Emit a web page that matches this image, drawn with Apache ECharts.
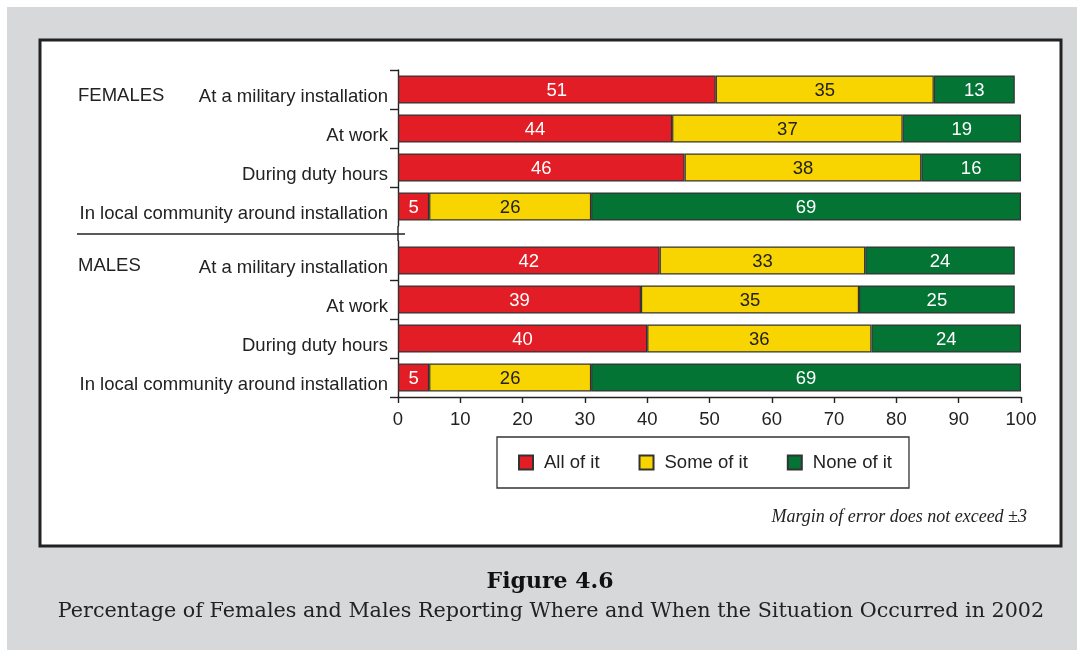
<!DOCTYPE html>
<html>
<head>
<meta charset="utf-8">
<script src="https://cdn.jsdelivr.net/npm/echarts@6/dist/echarts.min.js"></script>
<style>
  html, body { margin: 0; padding: 0; background: #ffffff; }
  #chart { width: 1084px; height: 653px; }
</style>
</head>
<body>
<div id="chart"></div>
<script>
// ---- Data ----
const categories = [
  "At a military installation",
  "At work",
  "During duty hours",
  "In local community around installation"
];
const groupNames = ["FEMALES", "MALES"];
const seriesNames = ["All of it", "Some of it", "None of it"];
const femalesAll  = [51, 44, 46, 5];
const femalesSome = [35, 37, 38, 26];
const femalesNone = [13, 19, 16, 69];
const malesAll    = [42, 39, 40, 5];
const malesSome   = [33, 35, 36, 26];
const malesNone   = [24, 25, 24, 69];
const xTicks = [0, 10, 20, 30, 40, 50, 60, 70, 80, 90, 100];
const figureTitle = "Figure 4.6";
const figureCaption = "Percentage of Females and Males Reporting Where and When the Situation Occurred in 2002";
const noteText = "Margin of error does not exceed \u00b13";

// ---- Styles ----
const colors = ["#e21d25", "#f8d400", "#037434"];
const labelColors = ["#ffffff", "#222222", "#ffffff"];
const sansFont = "Liberation Sans, Arial, Helvetica, sans-serif";
const serifFont = "DejaVu Serif, serif";
const FS = 18.5;
const ink = "#222";

const grids = [
  { left: 398, right: 63, top: 70, height: 156 },
  { left: 398, right: 63, top: 241, height: 156 }
];

function yAxisFor(gi) {
  return {
    type: "category",
    gridIndex: gi,
    data: categories,
    inverse: true,
    axisLine: { show: true, lineStyle: { color: ink, width: 1.4 } },
    axisTick: { show: false },
    axisLabel: {
      margin: 10,
      formatter: v => "{c|" + v + "}",
      rich: { c: { color: ink, fontSize: FS, fontFamily: sansFont, padding: [14, 0, 0, 0] } }
    }
  };
}
function xAxisFor(gi, show) {
  return {
    type: "value",
    gridIndex: gi,
    min: 0, max: 100, interval: 10,
    splitLine: { show: false },
    axisLine: { show: show, lineStyle: { color: ink, width: 1.4 } },
    axisTick: { show: show, length: 6, lineStyle: { color: ink, width: 1.4 } },
    axisLabel: {
      show: show, color: ink, fontSize: FS, fontFamily: sansFont, margin: 13,
      formatter: v => xTicks.indexOf(v) >= 0 ? String(v) : ""
    }
  };
}

const groupData = [
  [femalesAll, femalesSome, femalesNone],
  [malesAll, malesSome, malesNone]
];

const series = [];
groupData.forEach((arrs, gi) => {
  arrs.forEach((vals, si) => {
    series.push({
      name: seriesNames[si],
      type: "bar",
      stack: "g" + gi,
      xAxisIndex: gi,
      yAxisIndex: gi,
      barWidth: 28,
      data: vals,
      itemStyle: { color: colors[si], borderColor: "#333", borderWidth: 1.2 },
      label: {
        show: true, position: "inside", offset: [0, 1.5],
        color: labelColors[si], fontSize: FS, fontFamily: sansFont
      },
      emphasis: { disabled: true }
    });
  });
});

const staticGraphics = [
  { type: "rect", z: -10, silent: true, shape: { x: 7, y: 7, width: 1070, height: 643 }, style: { fill: "#d7d8da" } },
  { type: "rect", z: -9, silent: true, shape: { x: 40, y: 40, width: 1021, height: 506 }, style: { fill: "#ffffff", stroke: "#222", lineWidth: 3 } },
  { type: "line", z: 5, silent: true, shape: { x1: 77, y1: 234, x2: 405, y2: 234 }, style: { stroke: ink, lineWidth: 1.4 } },
  { type: "line", z: 5, silent: true, shape: { x1: 398, y1: 226, x2: 398, y2: 241 }, style: { stroke: ink, lineWidth: 1.4 } },
  { type: "text", z: 5, silent: true, style: { x: 78, y: 96, text: groupNames[0], fill: ink, font: FS + "px " + sansFont, textVerticalAlign: "middle" } },
  { type: "text", z: 5, silent: true, style: { x: 78, y: 266, text: groupNames[1], fill: ink, font: FS + "px " + sansFont, textVerticalAlign: "middle" } },
  { type: "text", z: 5, silent: true, style: { x: 1027, y: 517, text: noteText, fill: ink, font: "italic 18px Liberation Serif, serif", textAlign: "right", textVerticalAlign: "middle" } },
  { type: "text", z: 5, silent: true, style: { x: 550, y: 582, text: figureTitle, fill: "#111", font: "bold 22px " + serifFont, textAlign: "center", textVerticalAlign: "middle" } },
  { type: "text", z: 5, silent: true, style: { x: 551, y: 612, text: figureCaption, fill: ink, font: "20.7px " + serifFont, textAlign: "center", textVerticalAlign: "middle" } }
];

const chart = echarts.init(document.getElementById("chart"), null, { renderer: "canvas" });
chart.setOption({
  backgroundColor: "#ffffff",
  animation: false,
  grid: grids,
  xAxis: [xAxisFor(0, false), xAxisFor(1, true)],
  yAxis: [yAxisFor(0), yAxisFor(1)],
  legend: {
    data: seriesNames,
    left: 497, top: 437,
    padding: [16, 17, 16, 21],
    itemWidth: 14, itemHeight: 14, itemGap: 39,
    borderColor: "#333", borderWidth: 1.3,
    backgroundColor: "#fff",
    icon: "rect",
    textStyle: { color: ink, fontSize: FS, fontFamily: sansFont, padding: [0, 0, 0, 6] },
    selectedMode: false
  },
  series: series,
  graphic: staticGraphics
});

// Category tick marks at band boundaries, positioned through the axis scale.
function boundaryY(gi, idx) {
  const a = chart.convertToPixel({ yAxisIndex: gi }, categories[0]);
  const b = chart.convertToPixel({ yAxisIndex: gi }, categories[1]);
  const band = b - a;
  return a + band * (idx - 0.5);
}
const tickSpecs = [
  [0, [0, 1, 2, 3]],       // females: top edges of each row
  [1, [1, 2, 3, 4]]        // males: inner edges and bottom edge
];
const tickGraphics = [];
tickSpecs.forEach(([gi, idxs]) => {
  const x0 = chart.convertToPixel({ xAxisIndex: gi }, 0);
  idxs.forEach(i => {
    const y = Math.round(boundaryY(gi, i)) + 0.5;
    tickGraphics.push({ type: "line", z: 5, silent: true, shape: { x1: x0 - 8, y1: y, x2: x0, y2: y }, style: { stroke: ink, lineWidth: 1.4 } });
  });
});
chart.setOption({ graphic: staticGraphics.concat(tickGraphics) });
</script>
</body>
</html>
